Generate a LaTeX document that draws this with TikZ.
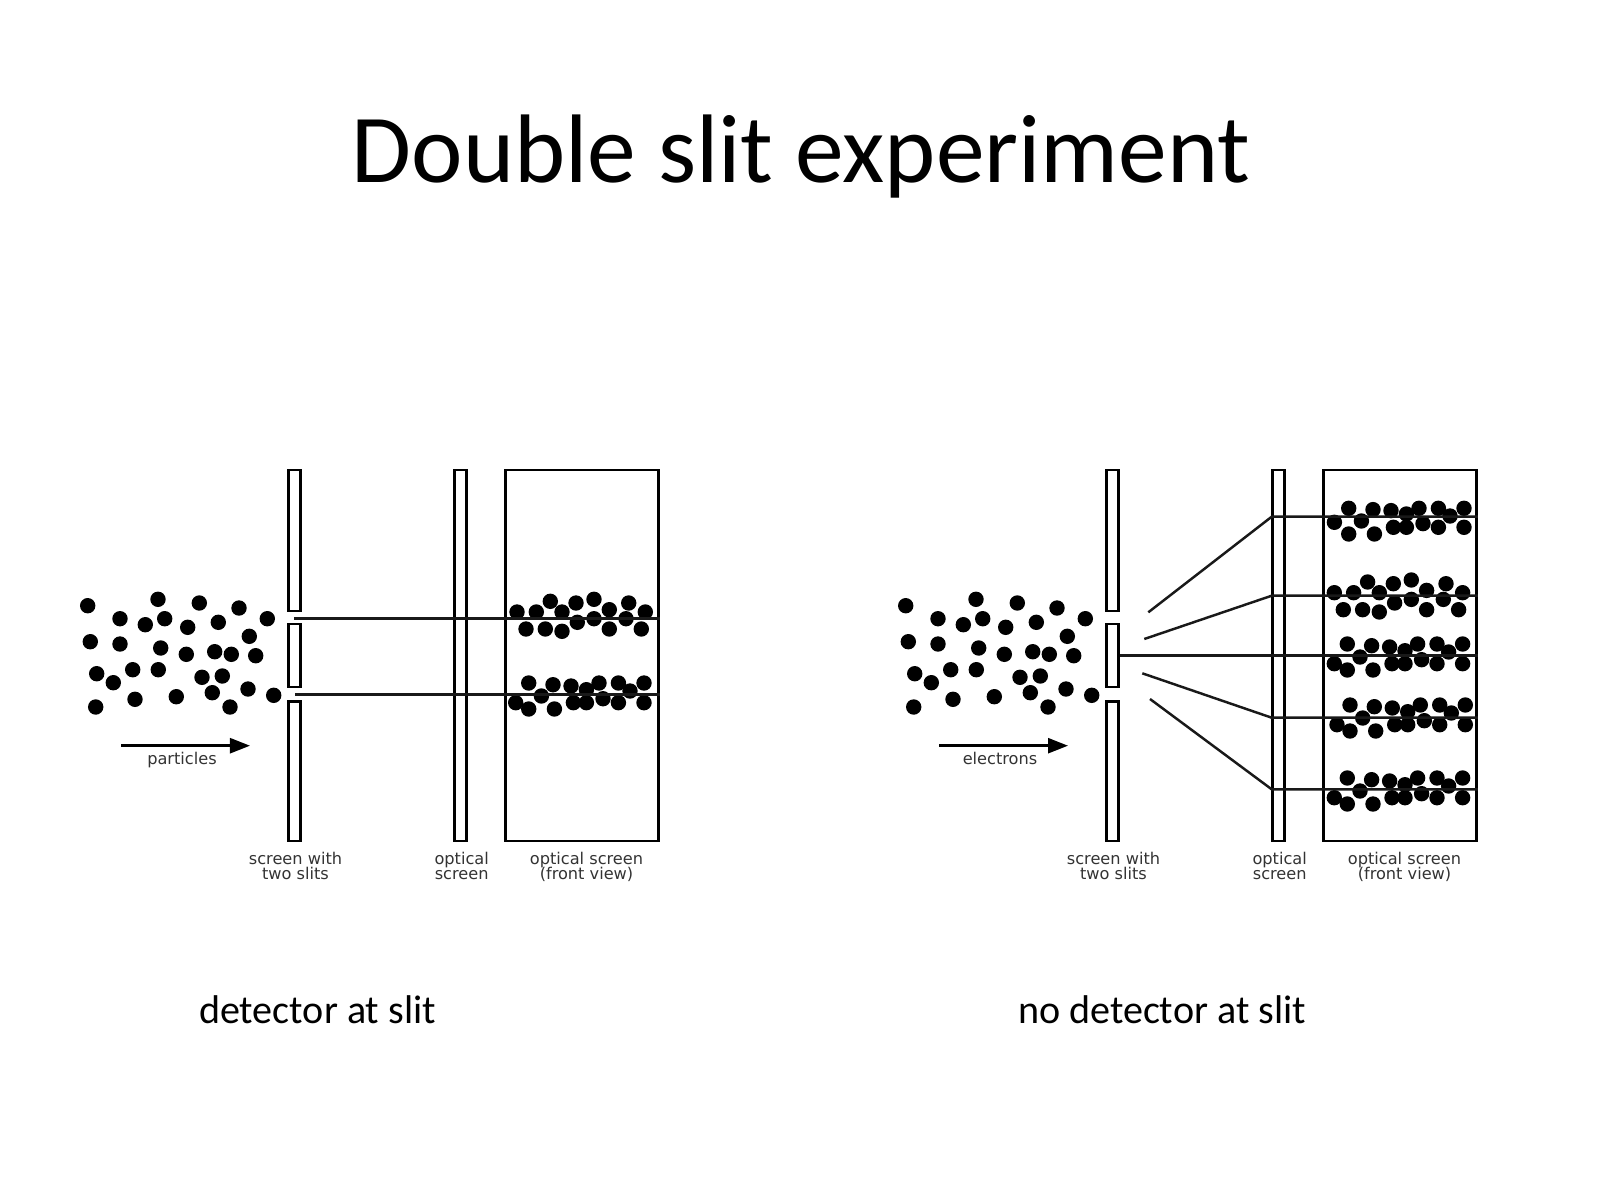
\documentclass[tikz,border=0pt]{standalone}
\usepackage{fontspec}
\setmainfont{Carlito}
\newfontfamily\figfont{DejaVu Sans}
\usetikzlibrary{arrows.meta}
\tikzset{
  screenbar/.style={rectangle,draw=black,line width=0.7pt,inner sep=0pt,
    minimum width=0.12cm},
  frontbox/.style={rectangle,draw=black,line width=0.7pt,inner sep=0pt,
    minimum width=1.53cm,minimum height=3.71cm},
  ray/.style={draw=black!90,line width=0.7pt},
  beamarrow/.style={-{Triangle[length=0.2cm,width=0.15cm]},line width=0.7pt},
  figlabel/.style={font=\figfont\fontsize{4.6}{4.25}\selectfont,
    text=black!80,align=center,inner sep=0pt},
  slidetitle/.style={font=\fontsize{27.7}{30}\selectfont,anchor=base,inner sep=0pt},
  caption/.style={font=\fontsize{11.4}{13}\selectfont,anchor=base,inner sep=0pt},
}
% positions of the grains, in pixels of the slide
\newcommand{\cloudlist}{87.7/605.7,120/618.7,145.3/624.7,158/599.3,164.7/618.7,187.7/627.3,199.3/603,218.3/622.3,239/608,267.3/618.7,249.3/636.3,90.3/641.7,120/644,160.7/648,186.3/654.3,214.7/651.7,231.3/654.3,255.7/655.7,96.7/673.7,113.3/682.7,132.7/669.7,158.3/669.7,202/677.3,222.3/676,212.3/692.7,248/689,273.7/695.3,95.7/707,135/699.3,176.3/696.7,230/707}
\newcommand{\wideband}{0/0,19.3/0,33.3/-10.7,45/0,59/-9,77/-12.7,92.3/-2.3,111.7/-9,128.3/0,9/17,28.3/17,45/19.3,60.3/10.3,77/6.7,92.3/17,109/6.7,124.3/17}
\newcommand{\flatband}{0/0,24.3/1.7,42.3/3,57.7/6.7,70.3/0,89.7/0,101.3/8,115.3/0,12.7/13,-13/19.7,0/26,25.7/26,44.7/19.7,57.7/19.7,74.3/15.7,89.7/19.7,115.3/19.7}
\newcommand{\topband}{0/0,24.3/1.3,42.3/2.3,57.7/5.7,70.3/0,89.7/0,101.3/7.7,115.3/0,12.7/12.7,-14.3/14,0/25.7,25.7/25.7,44.7/19,57.7/19,74.3/15.3,89.7/19,115.3/19}
\newcommand{\grains}[2]{%
  \begin{scope}[shift={(#1)}]
    \foreach \gx/\gy in #2 {\fill (\gx,\gy) circle[radius=0.077cm];}
  \end{scope}}

\begin{document}
\begin{tikzpicture}[x=0.01cm,y=-0.01cm]
  \useasboundingbox (0,0) rectangle (1600,1200);
  \node[slidetitle] (title) at (801,182.5) {Double slit experiment};

  % the same apparatus twice
  \foreach \side/\dx/\word in {l/0/particles,r/818/electrons} {
    \begin{scope}[xshift=\dx*0.01cm]
      \node[screenbar,minimum height=1.407cm] (\side top) at (294.5,540.4) {};
      \node[screenbar,minimum height=0.627cm] (\side mid) at (294.5,655.5) {};
      \node[screenbar,minimum height=1.393cm] (\side low) at (294.5,771.2) {};
      \node[screenbar,minimum height=3.71cm]  (\side opt) at (460.5,655.5) {};
      \node[frontbox] (\side front) at (582,655.5) {};
      \grains{0,0}{\cloudlist}
      \coordinate (\side beamstart) at (121,745.7);
      \coordinate (\side beamend)   at (250,745.7);
      \draw[beamarrow] (\side beamstart) -- (\side beamend);
      \node[figlabel,anchor=base] (\side word) at (182,764.3) {\word};
      \node[figlabel] (\side slitlabel) at (295.5,866) {screen with\\two slits};
      \node[figlabel] (\side optlabel)  at (461.7,866) {optical\\screen};
      \node[figlabel] (\side frontlabel) at (586.5,866) {optical screen\\\smash{(front view)}};
    \end{scope}
  }

  % particles
  \grains{517,612}{\wideband}
  \grains{528.7,683}{\flatband}
  \coordinate (lslit1) at (294,618.3);
  \coordinate (lslit2) at (295,694.3);
  \draw[ray] (lslit1) -- (lslit1 -| lfront.east);
  \draw[ray] (lslit2) -- (lslit2 -| lfront.east);

  % electrons
  \grains{1348.7,508.3}{\topband}
  \grains{1334.3,592.7}{\wideband}
  \grains{1347.3,644}{\flatband}
  \grains{1350,705}{\flatband}
  \grains{1347.3,778}{\flatband}
  \coordinate (rfan1) at (1148.3,612.3);
  \coordinate (rfan2) at (1144.3,639);
  \coordinate (rfan4) at (1142.3,673.3);
  \coordinate (rfan5) at (1150,699);
  \coordinate (rhit1) at (1271.7,516.7);
  \coordinate (rhit2) at (1271.7,595.7);
  \coordinate (rhit4) at (1271.7,717.7);
  \coordinate (rhit5) at (1271.7,789.3);
  \draw[ray] (rfan1) -- (rhit1) -- (rhit1 -| rfront.east);
  \draw[ray] (rfan2) -- (rhit2) -- (rhit2 -| rfront.east);
  \draw[ray] (rmid.east) -- (rmid.east -| rfront.east);
  \draw[ray] (rfan4) -- (rhit4) -- (rhit4 -| rfront.east);
  \draw[ray] (rfan5) -- (rhit5) -- (rhit5 -| rfront.east);

  \node[caption] (lcaption) at (317.5,1023.5) {detector at slit};
  \node[caption] (rcaption) at (1162,1023.5) {no detector at slit};
\end{tikzpicture}
\end{document}
